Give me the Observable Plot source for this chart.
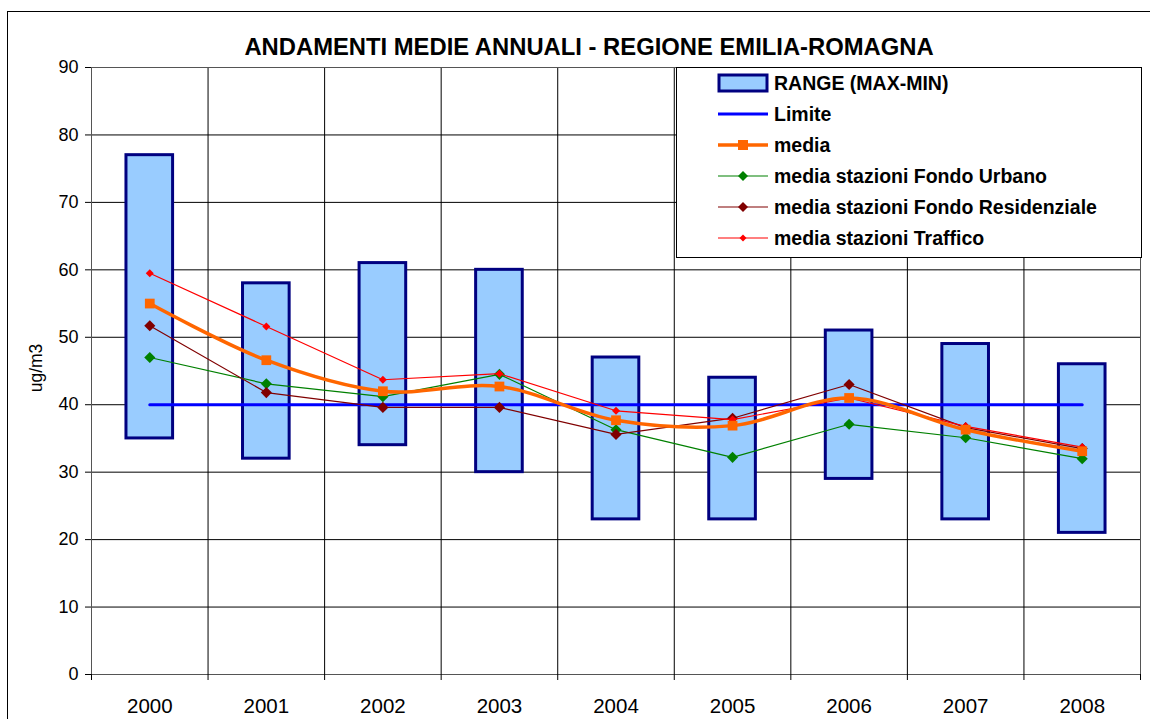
<!DOCTYPE html>
<html>
<head>
<meta charset="utf-8">
<script src="https://cdn.jsdelivr.net/npm/d3@7"></script>
<script src="https://cdn.jsdelivr.net/npm/@observablehq/plot@0.6"></script>
<style>
  html, body { margin: 0; padding: 0; background: #fff; overflow: hidden; }
  #wrap { position: relative; width: 1150px; height: 719px; font-family: "Liberation Sans", Arial, sans-serif; }
  #border { position: absolute; left: 7px; top: 11px; width: 1200px; height: 800px; border: 1px solid #000; box-sizing: border-box; pointer-events: none; }
  #title { position: absolute; left: 0; top: 33px; width: 1178px; text-align: center; font-weight: bold; font-size: 23.8px; color: #000; white-space: nowrap; }
  #ylabel { position: absolute; left: 36px; top: 368px; transform: translate(-50%, -50%) rotate(-90deg); font-size: 17.5px; white-space: nowrap; }
  #legend { position: absolute; left: 0; top: 0; }
  #chart { position: absolute; left: 0; top: 0; }
  #chart svg text { fill: #000; }
  #chart svg g.ytl text { font-size: 18px !important; }
  #chart svg g.xtl text { font-size: 20.5px !important; }
</style>
</head>
<body>
<div id="wrap">
  <div id="chart"></div>
  <div id="border"></div>
  <div id="title">ANDAMENTI MEDIE ANNUALI - REGIONE EMILIA-ROMAGNA</div>
  <div id="ylabel">ug/m3</div>
  <svg id="legend" width="1150" height="719"></svg>
</div>
<script>
const years = [2000, 2001, 2002, 2003, 2004, 2005, 2006, 2007, 2008];
const rangeMax = [77, 58, 61, 60, 47, 44, 51, 49, 46];
const rangeMin = [35, 32, 34, 30, 23, 23, 29, 23, 21];
const media = [55.0, 46.6, 42.0, 42.7, 37.7, 36.9, 41.0, 36.3, 33.1];
const fondoUrbano = [47.0, 43.1, 41.2, 44.5, 36.3, 32.2, 37.1, 35.1, 32.0];
const fondoResidenziale = [51.7, 41.8, 39.6, 39.6, 35.6, 38.0, 43.0, 36.6, 33.5];
const traffico = [59.5, 51.6, 43.7, 44.6, 39.1, 37.8, 41.0, 36.8, 33.7];
const limite = 40;
const yTicks = [0, 10, 20, 30, 40, 50, 60, 70, 80, 90];
const legendLabels = ["RANGE (MAX-MIN)", "Limite", "media", "media stazioni Fondo Urbano", "media stazioni Fondo Residenziale", "media stazioni Traffico"];

const rows = years.map((y, i) => ({
  year: y, max: rangeMax[i], min: rangeMin[i], media: media[i],
  urb: fondoUrbano[i], res: fondoResidenziale[i], tra: traffico[i], lim: limite
}));
const boundaries = d3.range(years[0] - 0.5, years[years.length - 1] + 1, 1);

const chart = Plot.plot({
  width: 1150,
  height: 719,
  marginLeft: 91,
  marginTop: 67,
  marginRight: 10,
  marginBottom: 45,
  style: { fontFamily: "'Liberation Sans', Arial, sans-serif", background: "transparent", overflow: "visible" },
  x: { domain: [years[0] - 0.5, years[years.length - 1] + 0.5], axis: null },
  y: { domain: [0, 90], axis: null },
  marks: [
    Plot.ruleY(yTicks, { stroke: "#000", strokeWidth: 1 }),
    Plot.ruleX(boundaries, { y1: 0, y2: 90, stroke: "#000", strokeWidth: 1 }),
    Plot.frame({ stroke: "#555", strokeWidth: 1 }),
    Plot.axisY({ ticks: yTicks, tickSize: 6, tickPadding: 7, fontSize: 18, tickFormat: d => String(d), stroke: "#000", label: null, className: "ytl" }),
    Plot.axisX({ ticks: boundaries, tickSize: 6, tickFormat: () => "", stroke: "#000", label: null }),
    Plot.axisX({ ticks: years, tickSize: 0, tickPadding: 24, fontSize: 20.5, tickFormat: d => String(d), label: null, className: "xtl" }),
    Plot.rect(rows, { x1: d => d.year - 0.2, x2: d => d.year + 0.2, y1: "min", y2: "max", fill: "#99CCFF", stroke: "#000080", strokeWidth: 3 }),
    Plot.line(rows, { x: "year", y: "lim", stroke: "#0000FF", strokeWidth: 3 }),
    Plot.line(rows, { x: "year", y: "urb", stroke: "#008000", strokeWidth: 1.2 }),
    Plot.dot(rows, { x: "year", y: "urb", symbol: "diamond2", r: 5, fill: "#008000", stroke: "none" }),
    Plot.line(rows, { x: "year", y: "res", stroke: "#800000", strokeWidth: 1.2 }),
    Plot.dot(rows, { x: "year", y: "res", symbol: "diamond2", r: 5, fill: "#800000", stroke: "none" }),
    Plot.line(rows, { x: "year", y: "tra", stroke: "#FF0000", strokeWidth: 1.2 }),
    Plot.dot(rows, { x: "year", y: "tra", symbol: "diamond2", r: 3.6, fill: "#FF0000", stroke: "none" }),
    Plot.line(rows, { x: "year", y: "media", stroke: "#FF6600", strokeWidth: 3.5, curve: "catmull-rom" }),
    Plot.dot(rows, { x: "year", y: "media", symbol: "square", r: 5.5, fill: "#FF6600", stroke: "none" })
  ]
});
document.getElementById("chart").appendChild(chart);

// Legend
const lg = d3.select("#legend");
lg.append("rect").attr("x", 676.5).attr("y", 67.5).attr("width", 465).attr("height", 190)
  .attr("fill", "#fff").attr("stroke", "#000").attr("stroke-width", 1);
const entryY = [83, 114, 145, 176, 207, 238];
const legendStyles = [
  { type: "rect" },
  { type: "line", color: "#0000FF", w: 3 },
  { type: "line", color: "#FF6600", w: 3.5, marker: "square", ms: 10 },
  { type: "line", color: "#008000", w: 1.2, marker: "diamond", ms: 10 },
  { type: "line", color: "#800000", w: 1.2, marker: "diamond", ms: 10 },
  { type: "line", color: "#FF0000", w: 1.2, marker: "diamond", ms: 7 }
];
legendLabels.forEach((label, i) => {
  const y = entryY[i];
  const s = legendStyles[i];
  if (s.type === "rect") {
    lg.append("rect").attr("x", 719).attr("y", y - 8).attr("width", 48).attr("height", 16)
      .attr("fill", "#99CCFF").attr("stroke", "#000080").attr("stroke-width", 3);
  } else {
    lg.append("line").attr("x1", 718).attr("x2", 768).attr("y1", y).attr("y2", y)
      .attr("stroke", s.color).attr("stroke-width", s.w);
    if (s.marker === "square") {
      lg.append("rect").attr("x", 743 - s.ms / 2).attr("y", y - s.ms / 2).attr("width", s.ms).attr("height", s.ms).attr("fill", s.color);
    } else if (s.marker === "diamond") {
      const h = s.ms / 2;
      lg.append("path").attr("d", `M743,${y - h}L${743 + h},${y}L743,${y + h}L${743 - h},${y}Z`).attr("fill", s.color);
    }
  }
  lg.append("text").attr("x", 774).attr("y", y).attr("dy", "0.36em")
    .attr("font-family", "'Liberation Sans', Arial, sans-serif").attr("font-size", 19.5).attr("font-weight", "bold")
    .text(label);
});
</script>
</body>
</html>
